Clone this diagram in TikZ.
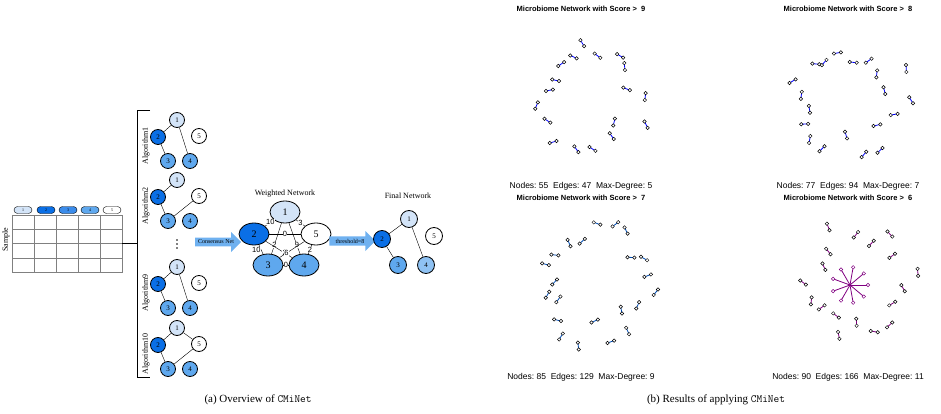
\documentclass[tikz,border=0pt]{standalone}
\usepackage{fontspec}
\setmainfont{Liberation Serif}
\setsansfont{Liberation Sans}
\usetikzlibrary{shapes.geometric,shapes.arrows,shapes.misc}
\definecolor{nlight}{HTML}{D3E4F8}
\definecolor{nmid}{HTML}{5FA8EE}
\definecolor{ndark}{HTML}{0A6FE6}
\tikzset{
  nd/.style={circle,draw,thick,minimum size=15pt,inner sep=0pt,font=\fontsize{7}{8}\selectfont},
  wnd/.style={ellipse,draw,thick,minimum width=30pt,minimum height=22pt,inner sep=0pt,font=\fontsize{10}{11}\selectfont},
  algo/.style={rotate=90,font=\fontsize{8}{9}\selectfont},
  bigarrow/.style={single arrow,fill=nmid!90,minimum height=46pt,minimum width=20pt,single arrow head extend=4pt,inner sep=1pt,font=\fontsize{6}{7}\selectfont},
  pill/.style={rounded rectangle,draw,minimum width=18pt,minimum height=7pt,inner sep=0pt,font=\fontsize{4}{5}\selectfont},
  wt/.style={fill=white,inner sep=0.3pt,font=\sffamily\fontsize{7.5}{8}\selectfont},
  ptitle/.style={font=\sffamily\bfseries\fontsize{7.5}{9}\selectfont},
  pfoot/.style={font=\sffamily\fontsize{8.5}{10}\selectfont},
  dot/.style={circle,draw,inner sep=0pt,minimum size=3.5pt,line width=0.5pt}
}
% one small network plot of random pairs
\newcommand{\netplot}[5]{%
  \pgfmathsetseed{#4}
  \foreach \k in {1,...,#3} {
    \pgfmathsetmacro{\ang}{\k*360/#3+rnd*12}
    \pgfmathsetmacro{\rad}{35+rnd*30}
    \pgfmathsetmacro{\tilt}{rnd*180}
    \draw[#5,line width=0.8pt] (#1,#2) ++(\ang:\rad) ++(\tilt:3.5) -- ++(\tilt+180:7);
    \path (#1,#2) ++(\ang:\rad) ++(\tilt:3.5) node[dot,fill=white] {} ++(\tilt+180:7) node[dot,fill=white] {};
  }
}
\begin{document}
\begin{tikzpicture}[x=1pt,y=-1pt]
\useasboundingbox (0,0) rectangle (941,414);

% data table
\foreach \x/\c/\n in {23/nlight/1,46/ndark/2,68/ndark!80/3,90/nmid/4,112/white/5}
  \node[pill,fill=\c] (p\n) at (\x,210) {\n};
\draw[gray] (12,215) rectangle (122,272);
\foreach \x in {34,56,78,100} \draw[gray] (\x,215) -- (\x,272);
\foreach \y in {229,243,258} \draw[gray] (12,\y) -- (122,\y);
\node[algo] (sample) at (6,240) {Sample};

% bracket
\coordinate (tabr) at (122,243);
\coordinate (brk) at (137,243);
\draw (tabr) -- (brk);
\draw (150,110) -- (137,110) -- (137,377) -- (150,377);

% algorithm networks
\foreach \i/\y/\lab in {a/0/Algorithm1,b/60/Algorithm2,c/147/Algorithm9,d/208/Algorithm10} {
  \node[nd,fill=nlight] (\i1) at (177,120+\y) {1};
  \node[nd,fill=ndark]  (\i2) at (158,137+\y) {2};
  \node[nd,fill=white]  (\i5) at (199,136+\y) {5};
  \node[nd,fill=nmid]   (\i3) at (168,161+\y) {3};
  \node[nd,fill=nmid]   (\i4) at (190,161+\y) {4};
  \node[algo] (l\i) at (146,146+\y) {\lab};
}
\draw (a1) -- (a2) -- (a3); \draw (a1) -- (a4);
\draw (b1) -- (b2) -- (b3) -- (b5);
\draw (c1) -- (c2) -- (c3); \draw (c1) -- (c4);
\draw (d1) -- (d2) -- (d3) -- (d5) -- (d1);
\foreach \y in {240,244,248} \fill (177,\y) circle (0.8);

% consensus arrow
\node[bigarrow] (cons) at (216,242) {Consensus Net};

% weighted network
\node[font=\fontsize{8}{9}\selectfont] (wtitle) at (285,194) {Weighted Network};
\node[wnd,fill=nlight] (w1) at (285,212) {1};
\node[wnd,fill=ndark]  (w2) at (254,234) {2};
\node[wnd,fill=white]  (w5) at (316,234) {5};
\node[wnd,fill=nmid]   (w3) at (268,265) {3};
\node[wnd,fill=nmid]   (w4) at (304,265) {4};
\draw (w1) -- node[wt,pos=0.4] {10} (w2);
\draw (w1) -- node[wt,pos=0.5] {3} (w5);
\draw (w2) -- node[wt,pos=0.5] {0} (w5);
\draw (w1) -- node[wt,pos=0.7] {2} (w3);
\draw (w1) -- node[wt,pos=0.72] {9} (w4);
\draw (w2) -- node[wt,pos=0.72] {2} (w4);
\draw (w5) -- node[wt,pos=0.72] {6} (w3);
\draw (w5) -- node[wt,pos=0.5] {2} (w4);
\draw (w2) -- node[wt,pos=0.5,left] {10} (w3);
\draw (w3) -- node[wt] {0} (w4);

% threshold arrow
\node[bigarrow] (thr) at (350,241) {threshold=8};

% final network
\node[font=\fontsize{8}{9}\selectfont] (ftitle) at (408,196) {Final Network};
\node[nd,fill=nlight,minimum size=17pt] (f1) at (409,219) {1};
\node[nd,fill=ndark,minimum size=17pt]  (f2) at (382,239) {2};
\node[nd,fill=white,minimum size=17pt]  (f5) at (434,236) {5};
\node[nd,fill=nmid,minimum size=17pt]   (f3) at (398,265) {3};
\node[nd,fill=nmid!70,minimum size=17pt] (f4) at (426,265) {4};
\draw (f1) -- (f2) -- (f3); \draw (f1) -- (f4);

% result panels
\node[ptitle] (t9) at (581,9) {Microbiome Network with Score >\ \ 9};
\node[ptitle] (t8) at (848,9) {Microbiome Network with Score >\ \ 8};
\node[ptitle] (t7) at (581,198) {Microbiome Network with Score >\ \ 7};
\node[ptitle] (t6) at (848,198) {Microbiome Network with Score >\ \ 6};
\node[pfoot] (s9) at (581,186) {Nodes:\ 55\ \ Edges:\ 47\ \ Max-Degree:\ 5};
\node[pfoot] (s8) at (848,186) {Nodes:\ 77\ \ Edges:\ 94\ \ Max-Degree:\ 7};
\node[pfoot] (s7) at (581,377) {Nodes:\ 85\ \ Edges:\ 129\ \ Max-Degree:\ 9};
\node[pfoot] (s6) at (848,377) {Nodes:\ 90\ \ Edges:\ 166\ \ Max-Degree:\ 11};
\netplot{590}{95}{18}{11}{blue}
\netplot{850}{100}{20}{23}{blue}
\netplot{595}{285}{22}{37}{blue!70!green}
\netplot{855}{285}{18}{41}{violet}
% hub cluster in the score 6 panel
\foreach \a in {0,40,...,320}
  \draw[violet,line width=0.8pt] (850,285) -- ++(\a:18) node[dot,fill=white] {};

% captions
\node[font=\fontsize{11}{13}\selectfont] (capa) at (258,400) {(a) Overview of \texttt{CMiNet}};
\node[font=\fontsize{11}{13}\selectfont] (capb) at (716,400) {(b) Results of applying \texttt{CMiNet}};
\end{tikzpicture}
\end{document}
